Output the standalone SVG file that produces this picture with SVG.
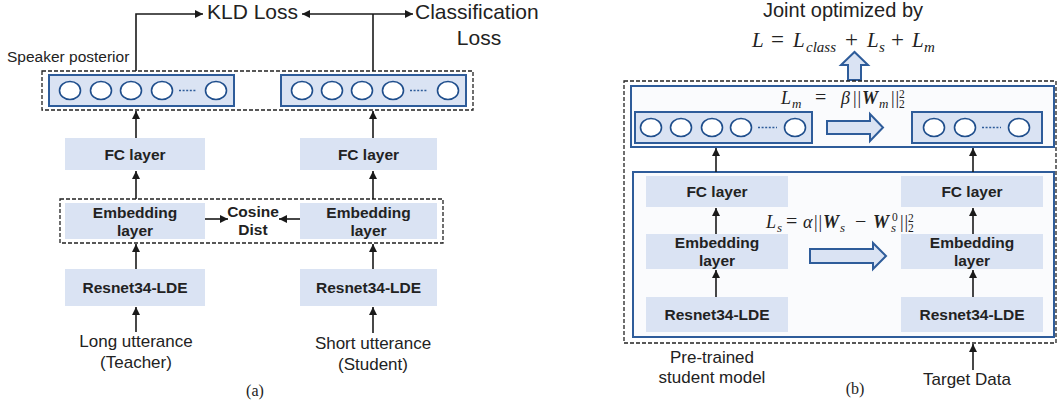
<svg xmlns="http://www.w3.org/2000/svg" width="1059" height="403" viewBox="0 0 1059 403">
  <defs>
    <marker id="arrow" viewBox="0 0 10 10" refX="10" refY="5" markerWidth="8" markerHeight="8" markerUnits="userSpaceOnUse" orient="auto">
      <path d="M0,0 L10,5 L0,10 z" fill="#1a1a1a"/>
    </marker>
    <style>
      .sans { font-family: "Liberation Sans", Arial, sans-serif; fill: #222; }
      .label { font-family: "Liberation Sans", Arial, sans-serif; font-weight: bold; font-size: 15.5px; fill: #222; text-anchor: middle; }
      .big { font-size: 21px; }
      .mid { font-size: 17px; text-anchor: middle; }
      .serif { font-family: "Liberation Serif", "Times New Roman", serif; fill: #222; }
      .math { font-family: "Liberation Serif", "DejaVu Serif", serif; fill: #222; }
      .it { font-style: italic; }
      .bi { font-style: italic; font-weight: bold; }
      .block { fill: #dae3f3; stroke: none; }
      .outbox { fill: #dae3f3; stroke: #2e5c9a; stroke-width: 2; }
      .panel { fill: #fafbfd; stroke: #2e5c9a; stroke-width: 2; }
      .dash { fill: none; stroke: #222; stroke-width: 1.3; stroke-dasharray: 4 2; }
      .neuron { fill: #fff; stroke: #1f4e8c; stroke-width: 1.6; }
      .dots { stroke: #2e5c9a; stroke-width: 1.6; stroke-dasharray: 2 1.6; }
      .conn { fill: none; stroke: #1a1a1a; stroke-width: 1.6; }
      .fat { fill: #dae3f3; stroke: #2e5c9a; stroke-width: 2; stroke-linejoin: miter; }
    </style>
  </defs>

  <!-- ===== (a) teacher / student distillation ===== -->
  <g id="posterior-group-a">
    <rect class="dash" x="42" y="71" width="431" height="39"/>
    <text class="sans" x="7" y="62" font-size="15.5">Speaker posterior</text>
  </g>
  <g id="teacher-posterior">
    <rect class="outbox" x="49" y="75" width="185" height="31"/>
    <ellipse class="neuron" cx="70" cy="90.5" rx="10.5" ry="9"/>
    <ellipse class="neuron" cx="101" cy="90.5" rx="10.5" ry="9"/>
    <ellipse class="neuron" cx="131" cy="90.5" rx="10.5" ry="9"/>
    <ellipse class="neuron" cx="162" cy="90.5" rx="10.5" ry="9"/>
    <line class="dots" x1="179" y1="90.5" x2="197" y2="90.5"/>
    <ellipse class="neuron" cx="216" cy="90.5" rx="10.5" ry="9"/>
  </g>
  <g id="student-posterior">
    <rect class="outbox" x="281" y="75" width="185" height="31"/>
    <ellipse class="neuron" cx="302" cy="90.5" rx="10.5" ry="9"/>
    <ellipse class="neuron" cx="332" cy="90.5" rx="10.5" ry="9"/>
    <ellipse class="neuron" cx="362" cy="90.5" rx="10.5" ry="9"/>
    <ellipse class="neuron" cx="393" cy="90.5" rx="10.5" ry="9"/>
    <line class="dots" x1="410" y1="90.5" x2="428" y2="90.5"/>
    <ellipse class="neuron" cx="448" cy="90.5" rx="10.5" ry="9"/>
  </g>
  <g id="losses-a">
    <text class="sans big" x="207" y="19">KLD Loss</text>
    <text class="sans big" x="415" y="19">Classification</text>
    <text class="sans big" x="479" y="45" text-anchor="middle">Loss</text>
  </g>
  <g id="fc-teacher">
    <rect class="block" x="65" y="138" width="140" height="32"/>
    <text class="label" x="135" y="159.5">FC layer</text>
  </g>
  <g id="fc-student">
    <rect class="block" x="300" y="138" width="137" height="32"/>
    <text class="label" x="368.5" y="159.5">FC layer</text>
  </g>
  <g id="embedding-group-a">
    <rect class="dash" x="60" y="199" width="383" height="44"/>
  </g>
  <g id="emb-teacher">
    <rect class="block" x="65" y="203" width="140" height="36"/>
    <text class="label" x="135" y="217.5">Embedding</text>
    <text class="label" x="135" y="235.5">layer</text>
  </g>
  <g id="cosine-dist">
    <text class="label" x="253" y="216.5">Cosine</text>
    <text class="label" x="253" y="235">Dist</text>
  </g>
  <g id="emb-student">
    <rect class="block" x="300" y="203" width="137" height="36"/>
    <text class="label" x="368.5" y="217.5">Embedding</text>
    <text class="label" x="368.5" y="235.5">layer</text>
  </g>
  <g id="resnet-teacher">
    <rect class="block" x="65" y="269" width="140" height="37"/>
    <text class="label" x="135" y="293">Resnet34-LDE</text>
  </g>
  <g id="resnet-student">
    <rect class="block" x="300" y="269" width="137" height="37"/>
    <text class="label" x="368.5" y="293">Resnet34-LDE</text>
  </g>
  <g id="inputs-a">
    <text class="sans mid" x="136" y="347">Long utterance</text>
    <text class="sans mid" x="136" y="368">(Teacher)</text>
    <text class="sans mid" x="373" y="349">Short utterance</text>
    <text class="sans mid" x="373" y="370">(Student)</text>
  </g>
  <text class="serif" x="255" y="396" font-size="16" text-anchor="middle">(a)</text>

  <!-- ===== (b) fine-tuning of the student model ===== -->
  <g id="objective">
    <text class="sans" x="843" y="17" font-size="20" text-anchor="middle">Joint optimized by</text>
    <text class="math" y="47" font-size="21"><tspan class="it" x="752">L</tspan><tspan x="771" font-size="23">=</tspan><tspan class="it" x="793">L</tspan><tspan class="it" x="806" font-size="15" dy="5">class</tspan><tspan x="845" dy="-5" font-size="23">+</tspan><tspan class="it" x="867">L</tspan><tspan class="it" x="879" font-size="15" dy="5">s</tspan><tspan x="891" dy="-5" font-size="23">+</tspan><tspan class="it" x="912">L</tspan><tspan class="it" x="924" font-size="15" dy="5">m</tspan></text>
    <path class="fat" d="M848,80 L848,65 L841,65 L854.5,52 L868,65 L861,65 L861,80 Z"/>
  </g>
  <g id="finetune-frame">
    <rect class="dash" x="624" y="81" width="432" height="262"/>
  </g>
  <g id="classifier-panel">
    <rect class="panel" x="631" y="86" width="423" height="61"/>
    <text class="math" y="104" font-size="18"><tspan class="it" x="781">L</tspan><tspan class="it" x="792" font-size="13" dy="4">m</tspan><tspan x="815" dy="-4" font-size="20">=</tspan><tspan class="it" x="841">β</tspan><tspan x="853" letter-spacing="1">||</tspan><tspan class="bi" x="862">W</tspan><tspan class="it" x="879" font-size="13" dy="4">m</tspan><tspan x="891" dy="-4" letter-spacing="1">||</tspan><tspan x="899" font-size="11.5" dy="4">2</tspan><tspan x="899" font-size="11.5" dy="-10">2</tspan></text>
  </g>
  <g id="pretrained-posterior">
    <rect class="outbox" x="635" y="112" width="177" height="31"/>
    <ellipse class="neuron" cx="651" cy="127.5" rx="10.5" ry="9"/>
    <ellipse class="neuron" cx="681" cy="127.5" rx="10.5" ry="9"/>
    <ellipse class="neuron" cx="712" cy="127.5" rx="10.5" ry="9"/>
    <ellipse class="neuron" cx="741" cy="127.5" rx="10.5" ry="9"/>
    <line class="dots" x1="758" y1="127.5" x2="777" y2="127.5"/>
    <ellipse class="neuron" cx="795" cy="127.5" rx="10.5" ry="9"/>
  </g>
  <path class="fat" d="M827,121 L870,121 L870,114 L883,127.5 L870,141 L870,134 L827,134 Z"/>
  <g id="target-posterior">
    <rect class="outbox" x="912" y="112" width="130" height="31"/>
    <ellipse class="neuron" cx="934" cy="127.5" rx="10.5" ry="9"/>
    <ellipse class="neuron" cx="965" cy="127.5" rx="10.5" ry="9"/>
    <line class="dots" x1="982" y1="127.5" x2="1001" y2="127.5"/>
    <ellipse class="neuron" cx="1019" cy="127.5" rx="10.5" ry="9"/>
  </g>
  <g id="backbone-panel">
    <rect class="panel" x="633" y="172" width="421" height="165"/>
    <text class="math" y="228" font-size="18"><tspan class="it" x="766">L</tspan><tspan class="it" x="777" font-size="13" dy="4">s</tspan><tspan x="786" dy="-4" font-size="20">=</tspan><tspan class="it" x="803">α</tspan><tspan x="814" letter-spacing="1">||</tspan><tspan class="bi" x="823">W</tspan><tspan class="it" x="840" font-size="13" dy="4">s</tspan><tspan x="855" dy="-4" font-size="20">−</tspan><tspan class="bi" x="873">W</tspan><tspan class="it" x="891" font-size="13" dy="4">s</tspan><tspan x="892" font-size="11.5" dy="-11">0</tspan><tspan x="900" dy="7" letter-spacing="1">||</tspan><tspan x="908" font-size="11.5" dy="4">2</tspan><tspan x="908" font-size="11.5" dy="-10">2</tspan></text>
  </g>
  <g id="fc-pretrained">
    <rect class="block" x="646" y="176" width="142" height="31"/>
    <text class="label" x="717" y="197">FC layer</text>
  </g>
  <g id="fc-target">
    <rect class="block" x="901" y="176" width="142" height="31"/>
    <text class="label" x="972" y="197">FC layer</text>
  </g>
  <g id="emb-pretrained">
    <rect class="block" x="646" y="234" width="142" height="35"/>
    <text class="label" x="717" y="248">Embedding</text>
    <text class="label" x="717" y="266">layer</text>
  </g>
  <path class="fat" d="M810,249 L873,249 L873,243 L886,256 L873,269 L873,263 L810,263 Z"/>
  <g id="emb-target">
    <rect class="block" x="901" y="234" width="142" height="35"/>
    <text class="label" x="972" y="248">Embedding</text>
    <text class="label" x="972" y="266">layer</text>
  </g>
  <g id="resnet-pretrained">
    <rect class="block" x="646" y="297" width="142" height="35"/>
    <text class="label" x="717" y="320">Resnet34-LDE</text>
  </g>
  <g id="resnet-target">
    <rect class="block" x="901" y="297" width="142" height="35"/>
    <text class="label" x="972" y="320">Resnet34-LDE</text>
  </g>
  <g id="captions-b">
    <text class="sans mid" x="712" y="363">Pre-trained</text>
    <text class="sans mid" x="712" y="383">student model</text>
    <text class="sans mid" x="967" y="385">Target Data</text>
  </g>
  <text class="serif" x="855" y="394" font-size="16" text-anchor="middle">(b)</text>

  <!-- connectors -->
  <g id="connectors">
    <path class="conn" d="M136,71 V14 H203" marker-end="url(#arrow)"/>
    <path class="conn" d="M373,71 V14"/>
    <path class="conn" d="M373,14 H302" marker-end="url(#arrow)"/>
    <path class="conn" d="M373,14 H413" marker-end="url(#arrow)"/>
    <line class="conn" x1="136" y1="138" x2="136" y2="111" marker-end="url(#arrow)"/>
    <line class="conn" x1="373" y1="138" x2="373" y2="111" marker-end="url(#arrow)"/>
    <line class="conn" x1="136" y1="199" x2="136" y2="171" marker-end="url(#arrow)"/>
    <line class="conn" x1="373" y1="199" x2="373" y2="171" marker-end="url(#arrow)"/>
    <line class="conn" x1="205" y1="219" x2="228" y2="219" marker-end="url(#arrow)"/>
    <line class="conn" x1="300" y1="219" x2="279" y2="219" marker-end="url(#arrow)"/>
    <line class="conn" x1="136" y1="269" x2="136" y2="244" marker-end="url(#arrow)"/>
    <line class="conn" x1="373" y1="269" x2="373" y2="244" marker-end="url(#arrow)"/>
    <line class="conn" x1="136" y1="332" x2="136" y2="307" marker-end="url(#arrow)"/>
    <line class="conn" x1="373" y1="333" x2="373" y2="307" marker-end="url(#arrow)"/>
    <line class="conn" x1="716" y1="172" x2="716" y2="148" marker-end="url(#arrow)"/>
    <line class="conn" x1="973" y1="172" x2="973" y2="148" marker-end="url(#arrow)"/>
    <line class="conn" x1="716" y1="234" x2="716" y2="208" marker-end="url(#arrow)"/>
    <line class="conn" x1="973" y1="234" x2="973" y2="208" marker-end="url(#arrow)"/>
    <line class="conn" x1="716" y1="297" x2="716" y2="270" marker-end="url(#arrow)"/>
    <line class="conn" x1="973" y1="297" x2="973" y2="270" marker-end="url(#arrow)"/>
    <line class="conn" x1="973" y1="370" x2="973" y2="344" marker-end="url(#arrow)"/>
  </g>
</svg>
